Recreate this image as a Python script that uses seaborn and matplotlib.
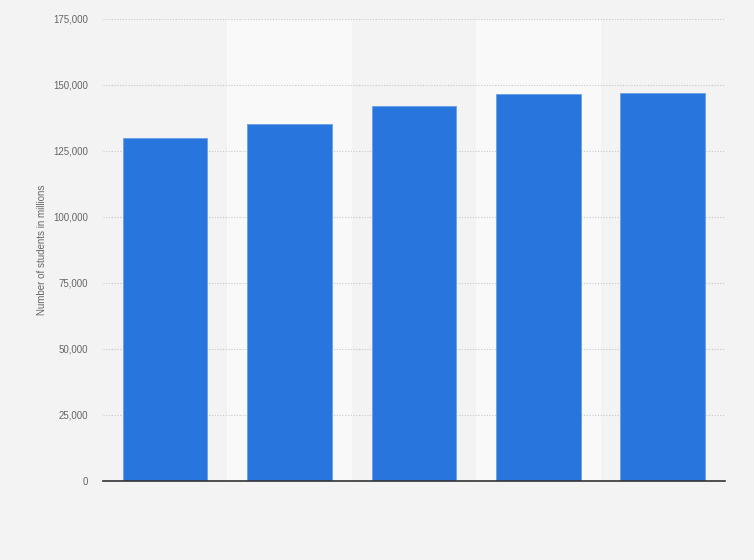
import pandas as pd
import seaborn as sns
import matplotlib.pyplot as plt
import matplotlib.ticker as ticker

# Values (x labels are not shown in the picture)
categories = ['1', '2', '3', '4', '5']
students = [130000, 135300, 142000, 146700, 147000]
y_ticks = [0, 25000, 50000, 75000, 100000, 125000, 150000, 175000]

df = pd.DataFrame({'category': categories, 'students': students})

sns.set_theme(style="white")
plt.rcParams['font.family'] = ['Liberation Sans', 'DejaVu Sans']

fig = plt.figure(figsize=(7.54, 5.6), dpi=100, facecolor='#f3f3f3')
ax = fig.add_axes([0.1366, 0.1411, 0.8249, 0.8250])
ax.set_facecolor('#f3f3f3')

# alternating lighter column bands
for i in range(len(categories)):
    if i % 2 == 1:
        ax.axvspan(i - 0.5, i + 0.5, color='#f9f9f9', zorder=0, lw=0)

sns.barplot(data=df, x='category', y='students', color='#2876dd',
            width=0.68, saturation=1, edgecolor='#6a9fe6', linewidth=0.6,
            ax=ax, zorder=3)

ax.set_xlim(-0.5, len(categories) - 0.5)
ax.set_ylim(0, 175000)
ax.set_yticks(y_ticks)
ax.yaxis.set_major_formatter(ticker.FuncFormatter(lambda v, p: f'{int(v):,}'))
ax.grid(axis='y', color='#c8c8c8', linestyle=(0, (1, 1.5)), linewidth=0.8, zorder=1)
ax.set_axisbelow(True)

for s in ['top', 'right', 'left']:
    ax.spines[s].set_visible(False)
ax.spines['bottom'].set_color('#333333')
ax.spines['bottom'].set_linewidth(1.2)
ax.spines['bottom'].set_zorder(4)

ax.set_xticks(range(len(categories)))
ax.set_xticklabels([])
ax.tick_params(axis='x', length=0)
ax.tick_params(axis='y', length=0, labelsize=7, labelcolor='#666666', pad=11)
ax.set_xlabel('')
ax.set_ylabel('Number of students in millions', fontsize=7, color='#666666', labelpad=4)

plt.savefig('out.png', dpi=100, facecolor=fig.get_facecolor())
